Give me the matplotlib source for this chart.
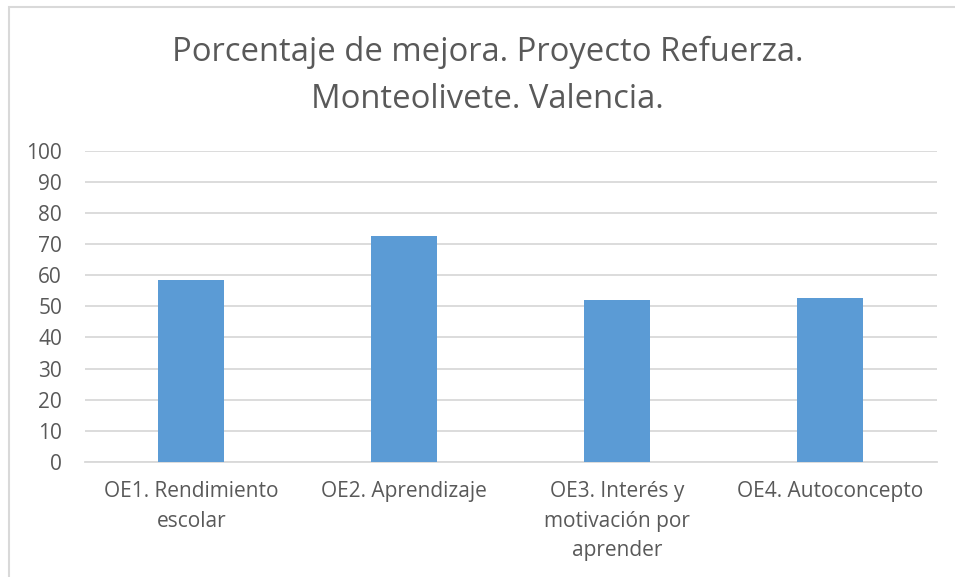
import matplotlib
matplotlib.use("Agg")
import matplotlib.pyplot as plt
from matplotlib.patches import Rectangle

categories = ["OE1. Rendimiento\nescolar", "OE2. Aprendizaje",
              "OE3. Interés y\nmotivación por\naprender", "OE4. Autoconcepto"]
values = [58.5, 72.6, 52.0, 52.8]
yticks = [0, 10, 20, 30, 40, 50, 60, 70, 80, 90, 100]
title = "Porcentaje de mejora. Proyecto Refuerza.\nMonteolivete. Valencia."

W, H = 955, 577
fig = plt.figure(figsize=(W / 100, H / 100), dpi=100)
plt.rcParams['font.family'] = ['Open Sans', 'DejaVu Sans']

# chart frame (cropped)
fig.patches.append(Rectangle((9 / W, -0.1), 1.2, 1 - 7 / H + 0.1, transform=fig.transFigure,
                             fill=False, edgecolor='#D9D9D9', linewidth=1.5))

ax = fig.add_axes([85 / W, 1 - 462 / H, (936.7 - 85) / W, (462 - 150.7) / H])
x = list(range(len(categories)))
ax.bar(x, values, width=0.31, color='#5B9BD5', zorder=3)
ax.set_xlim(-0.5, len(categories) - 0.5)
ax.set_ylim(0, 100)
ax.set_yticks(yticks)
ax.set_yticklabels([str(v) for v in yticks], fontsize=15, color='#595959')
ax.set_xticks(x)
ax.set_xticklabels(categories, fontsize=15, color='#595959', linespacing=1.55, va='top')
ax.tick_params(axis='both', length=0)
ax.tick_params(axis='y', pad=16.5)
ax.tick_params(axis='x', pad=13.5)
ax.yaxis.grid(True, color='#D9D9D9', linewidth=1.3, zorder=0)
for s in ['top', 'right', 'left']:
    ax.spines[s].set_visible(False)
ax.spines['bottom'].set_color('#D9D9D9')
ax.spines['bottom'].set_linewidth(1.3)

fig.text(487.4 / W, 1 - 76 / H, title, ha='center', va='center', fontsize=23.6,
         color='#595959', linespacing=1.55)

fig.savefig("out.png", dpi=100)
